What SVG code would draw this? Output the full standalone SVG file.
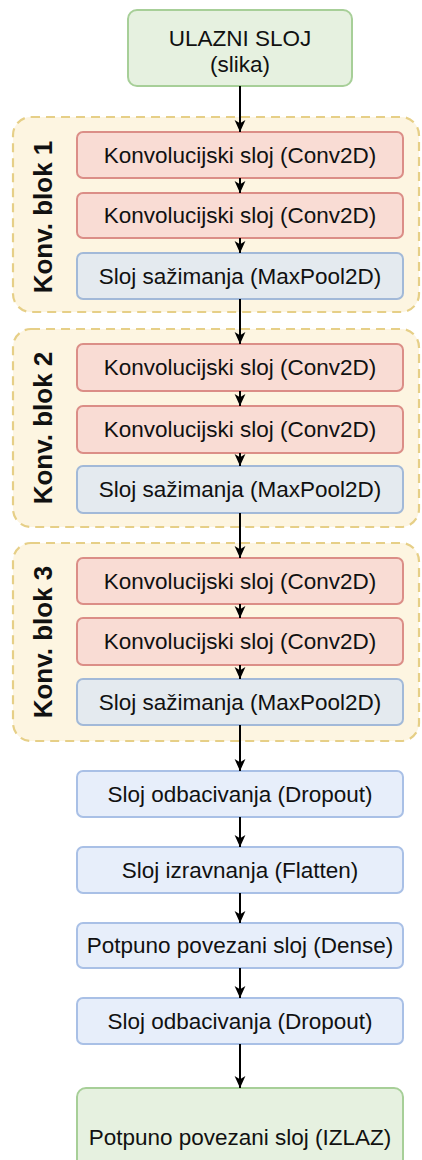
<svg xmlns="http://www.w3.org/2000/svg" width="422" height="1160" viewBox="0 0 422 1160">
<style>
.t{font-family:"Liberation Sans",Arial,Helvetica,sans-serif;font-size:22.5px;fill:#111;text-anchor:middle;dominant-baseline:central}
.lbl{font-family:"Liberation Sans",Arial,Helvetica,sans-serif;font-size:26px;font-weight:bold;fill:#111;text-anchor:middle}
.blk{fill:#fdf5e1;stroke:#e6cf87;stroke-width:2.2;stroke-dasharray:9 6}
.g{fill:#e6f1e0;stroke:#a7cf98;stroke-width:2}
.r{fill:#f9dcd4;stroke:#db8e87;stroke-width:2}
.bi{fill:#e4eaef;stroke:#a2b9d8;stroke-width:2}
.b{fill:#e7eefa;stroke:#a9c0e6;stroke-width:2}
.c{stroke:#000;stroke-width:2;fill:none;marker-end:url(#ah)}
</style>
<defs>
<marker id="ah" markerUnits="userSpaceOnUse" markerWidth="13" markerHeight="13" viewBox="0 0 12 12" refX="11" refY="6" orient="auto">
<path d="M0,1 L11,6 L0,11 L3,6 z" fill="#000"/>
</marker>
</defs>
<g id="block1"><rect class="blk" x="13" y="117" width="406" height="195" rx="18"/><text class="lbl" transform="translate(52,217) rotate(-90)">Konv. blok 1</text></g>
<g id="block2"><rect class="blk" x="13" y="329" width="406" height="198" rx="18"/><text class="lbl" transform="translate(52,428) rotate(-90)">Konv. blok 2</text></g>
<g id="block3"><rect class="blk" x="13" y="543" width="406" height="198" rx="18"/><text class="lbl" transform="translate(52,642) rotate(-90)">Konv. blok 3</text></g>
<g id="input"><rect class="g" x="128" y="10" width="224" height="76" rx="9"/><text class="t" x="240" y="38">ULAZNI SLOJ</text><text class="t" x="240" y="64">(slika)</text></g>
<g id="b1c1"><rect class="r" x="77" y="132" width="326" height="46" rx="6"/><text class="t" x="240" y="155">Konvolucijski sloj (Conv2D)</text></g>
<g id="b1c2"><rect class="r" x="77" y="193" width="326" height="45" rx="6"/><text class="t" x="240" y="215.5">Konvolucijski sloj (Conv2D)</text></g>
<g id="b1p"><rect class="bi" x="77" y="253" width="326" height="46" rx="6"/><text class="t" x="240" y="276">Sloj sažimanja (MaxPool2D)</text></g>
<g id="b2c1"><rect class="r" x="77" y="344" width="326" height="47" rx="6"/><text class="t" x="240" y="367.5">Konvolucijski sloj (Conv2D)</text></g>
<g id="b2c2"><rect class="r" x="77" y="406" width="326" height="47" rx="6"/><text class="t" x="240" y="429.5">Konvolucijski sloj (Conv2D)</text></g>
<g id="b2p"><rect class="bi" x="77" y="466" width="326" height="47" rx="6"/><text class="t" x="240" y="489.5">Sloj sažimanja (MaxPool2D)</text></g>
<g id="b3c1"><rect class="r" x="77" y="558" width="326" height="46" rx="6"/><text class="t" x="240" y="581">Konvolucijski sloj (Conv2D)</text></g>
<g id="b3c2"><rect class="r" x="77" y="618" width="326" height="47" rx="6"/><text class="t" x="240" y="641.5">Konvolucijski sloj (Conv2D)</text></g>
<g id="b3p"><rect class="bi" x="77" y="679" width="326" height="46" rx="6"/><text class="t" x="240" y="702">Sloj sažimanja (MaxPool2D)</text></g>
<g id="drop1"><rect class="b" x="77" y="771" width="326" height="46" rx="6"/><text class="t" x="240" y="794">Sloj odbacivanja (Dropout)</text></g>
<g id="flat"><rect class="b" x="77" y="847" width="326" height="46" rx="6"/><text class="t" x="240" y="870">Sloj izravnanja (Flatten)</text></g>
<g id="dense"><rect class="b" x="77" y="923" width="326" height="45" rx="6"/><text class="t" x="240" y="945.5">Potpuno povezani sloj (Dense)</text></g>
<g id="drop2"><rect class="b" x="77" y="998" width="326" height="46" rx="6"/><text class="t" x="240" y="1021">Sloj odbacivanja (Dropout)</text></g>
<g id="output"><rect class="g" x="77" y="1088" width="326" height="98" rx="9"/><text class="t" x="240" y="1137">Potpuno povezani sloj (IZLAZ)</text></g>
<g id="connectors">
<line class="c" x1="240" y1="86" x2="240" y2="132"/>
<line class="c" x1="240" y1="178" x2="240" y2="193"/>
<line class="c" x1="240" y1="238" x2="240" y2="253"/>
<line class="c" x1="240" y1="299" x2="240" y2="344"/>
<line class="c" x1="240" y1="391" x2="240" y2="406"/>
<line class="c" x1="240" y1="453" x2="240" y2="466"/>
<line class="c" x1="240" y1="513" x2="240" y2="558"/>
<line class="c" x1="240" y1="604" x2="240" y2="618"/>
<line class="c" x1="240" y1="665" x2="240" y2="679"/>
<line class="c" x1="240" y1="725" x2="240" y2="771"/>
<line class="c" x1="240" y1="817" x2="240" y2="847"/>
<line class="c" x1="240" y1="893" x2="240" y2="923"/>
<line class="c" x1="240" y1="968" x2="240" y2="998"/>
<line class="c" x1="240" y1="1044" x2="240" y2="1088"/>
</g>
</svg>
